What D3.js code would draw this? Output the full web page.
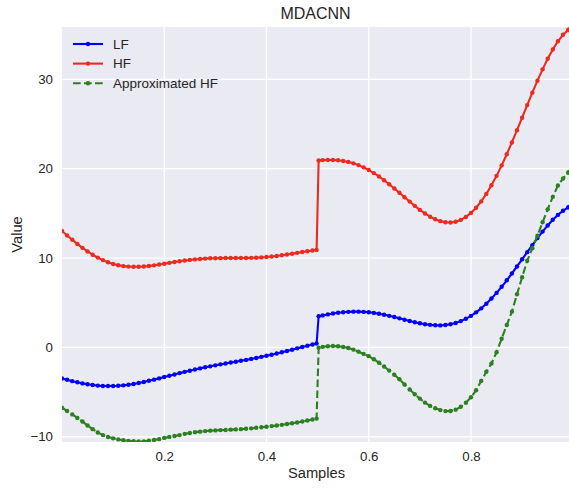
<!DOCTYPE html>
<html>
<head>
<meta charset="utf-8">
<script src="https://cdn.jsdelivr.net/npm/d3@7"></script>
<style>
  html, body { margin: 0; padding: 0; background: #ffffff; }
  svg { display: block; font-family: "Liberation Sans", Arial, sans-serif; }
</style>
</head>
<body>
<script>
// Sample locations shared by all three series
const samples = [
  0.00, 0.01, 0.02, 0.03, 0.04, 0.05, 0.06, 0.07, 0.08, 0.09,
  0.10, 0.11, 0.12, 0.13, 0.14, 0.15, 0.16, 0.17, 0.18, 0.19,
  0.20, 0.21, 0.22, 0.23, 0.24, 0.25, 0.26, 0.27, 0.28, 0.29,
  0.30, 0.31, 0.32, 0.33, 0.34, 0.35, 0.36, 0.37, 0.38, 0.39,
  0.40, 0.41, 0.42, 0.43, 0.44, 0.45, 0.46, 0.47, 0.48, 0.49,
  0.498, 0.502,
  0.51, 0.52, 0.53, 0.54, 0.55, 0.56, 0.57, 0.58, 0.59,
  0.60, 0.61, 0.62, 0.63, 0.64, 0.65, 0.66, 0.67, 0.68, 0.69,
  0.70, 0.71, 0.72, 0.73, 0.74, 0.75, 0.76, 0.77, 0.78, 0.79,
  0.80, 0.81, 0.82, 0.83, 0.84, 0.85, 0.86, 0.87, 0.88, 0.89,
  0.90, 0.91, 0.92, 0.93, 0.94, 0.95, 0.96, 0.97, 0.98, 0.99,
  0.992
];

// Low-fidelity response
const lfValues = [
  -3.49, -3.63, -3.78, -3.91, -4.03, -4.13, -4.21, -4.28, -4.32, -4.33,
  -4.33, -4.30, -4.25, -4.18, -4.09, -3.99, -3.87, -3.74, -3.61, -3.47,
  -3.32, -3.17, -3.03, -2.88, -2.74, -2.61, -2.47, -2.35, -2.23, -2.12,
  -2.01, -1.90, -1.80, -1.70, -1.60, -1.50, -1.40, -1.29, -1.18, -1.06,
  -0.94, -0.82, -0.68, -0.55, -0.40, -0.26, -0.11, 0.04, 0.18, 0.32,
  0.43, 3.48,
  3.58, 3.69, 3.79, 3.87, 3.94, 3.98, 4.00, 4.00, 3.97,
  3.93, 3.86, 3.77, 3.66, 3.53, 3.40, 3.25, 3.10, 2.96, 2.82,
  2.70, 2.59, 2.52, 2.47, 2.46, 2.50, 2.59, 2.73, 2.94, 3.20,
  3.53, 3.92, 4.37, 4.89, 5.47, 6.10, 6.78, 7.51, 8.27, 9.06,
  9.86, 10.66, 11.45, 12.23, 12.96, 13.65, 14.28, 14.83, 15.29, 15.66,
  15.72
];

// High-fidelity response
const hfValues = [
  13.03, 12.53, 12.05, 11.58, 11.14, 10.74, 10.37, 10.05, 9.77, 9.53,
  9.34, 9.20, 9.10, 9.04, 9.02, 9.02, 9.06, 9.11, 9.18, 9.27,
  9.36, 9.46, 9.55, 9.64, 9.72, 9.79, 9.85, 9.90, 9.94, 9.97,
  9.98, 9.99, 10.00, 10.00, 10.00, 10.00, 10.01, 10.02, 10.04, 10.07,
  10.11, 10.17, 10.23, 10.31, 10.39, 10.48, 10.58, 10.67, 10.76, 10.84,
  10.90, 20.92,
  20.96, 20.98, 20.98, 20.94, 20.87, 20.76, 20.60, 20.40, 20.15,
  19.85, 19.51, 19.13, 18.71, 18.26, 17.79, 17.30, 16.81, 16.32, 15.84,
  15.39, 14.99, 14.63, 14.34, 14.13, 14.01, 13.98, 14.07, 14.27, 14.60,
  15.05, 15.63, 16.34, 17.18, 18.14, 19.20, 20.37, 21.62, 22.94, 24.31,
  25.71, 27.12, 28.51, 29.85, 31.12, 32.30, 33.35, 34.26, 34.99, 35.52,
  35.60
];

// Network approximation of the high-fidelity response
const approxHfValues = [
  -6.75, -7.12, -7.50, -7.90, -8.30, -8.75, -9.15, -9.52, -9.82, -10.03,
  -10.18, -10.30, -10.39, -10.46, -10.51, -10.54, -10.52, -10.45, -10.37, -10.27,
  -10.13, -10.02, -9.92, -9.82, -9.68, -9.58, -9.49, -9.43, -9.37, -9.32,
  -9.29, -9.26, -9.24, -9.21, -9.18, -9.15, -9.11, -9.06, -9.00, -8.94,
  -8.88, -8.81, -8.74, -8.67, -8.58, -8.49, -8.40, -8.30, -8.19, -8.08,
  -7.97, -0.03,
  0.06, 0.13, 0.15, 0.12, 0.05, -0.07, -0.25, -0.48, -0.73,
  -0.98, -1.32, -1.72, -2.14, -2.60, -3.06, -3.56, -4.15, -4.72, -5.24,
  -5.73, -6.18, -6.55, -6.82, -7.02, -7.13, -7.12, -6.97, -6.65, -6.20,
  -5.58, -4.80, -3.75, -2.73, -1.80, -0.55, 0.97, 2.50, 4.00, 5.95,
  7.85, 9.70, 11.10, 12.50, 14.00, 15.45, 16.85, 18.12, 18.90, 19.55,
  19.64
];

const seriesNames = ["LF", "HF", "Approximated HF"];
const seriesColors = ["#0000ff", "#ec2b1e", "#2c8020"];
const seriesDashes = [null, null, "7.7,3.3"];
const xTicks = [0.2, 0.4, 0.6, 0.8];
const yTicks = [-10, 0, 10, 20, 30];

const W = 569, H = 489;
const plot = { left: 62, right: 569, top: 27, bottom: 442 };
const textColor = "#262626";

const svg = d3.select("body").append("svg")
  .attr("width", W).attr("height", H);

const x = d3.scaleLinear().domain([0, 0.9917]).range([plot.left, plot.right]);
const y = d3.scaleLinear().domain([-10.59, 35.86]).range([plot.bottom, plot.top]);

// Plot background
svg.append("rect")
  .attr("x", plot.left).attr("y", plot.top)
  .attr("width", plot.right - plot.left).attr("height", plot.bottom - plot.top)
  .attr("fill", "#eaeaf2");

svg.append("clipPath").attr("id", "plot-clip")
  .append("rect")
  .attr("x", plot.left).attr("y", plot.top)
  .attr("width", plot.right - plot.left).attr("height", plot.bottom - plot.top);

// Grid lines
const grid = svg.append("g").attr("stroke", "#ffffff").attr("stroke-width", 1.3);
grid.selectAll("line.gx").data(xTicks).join("line").attr("class", "gx")
  .attr("x1", d => x(d)).attr("x2", d => x(d))
  .attr("y1", plot.top).attr("y2", plot.bottom);
grid.selectAll("line.gy").data(yTicks).join("line").attr("class", "gy")
  .attr("y1", d => y(d)).attr("y2", d => y(d))
  .attr("x1", plot.left).attr("x2", plot.right);

// Axes (labels only, no tick marks or spines)
const xAxis = svg.append("g")
  .attr("transform", `translate(0,${plot.bottom})`)
  .call(d3.axisBottom(x).tickValues(xTicks).tickSize(0).tickPadding(10)
    .tickFormat(d3.format(".1f")));
const yAxis = svg.append("g")
  .attr("transform", `translate(${plot.left},0)`)
  .call(d3.axisLeft(y).tickValues(yTicks).tickSize(0).tickPadding(9)
    .tickFormat(d => d < 0 ? "\u2212" + Math.abs(d) : String(d)));
[xAxis, yAxis].forEach(g => {
  g.select(".domain").remove();
  g.selectAll("text")
    .attr("fill", textColor)
    .style("font-family", "'Liberation Sans', Arial, sans-serif")
    .style("font-size", "13.3px");
});

// Series
const table = seriesNames.map((name, k) => ({
  name,
  color: seriesColors[k],
  dash: seriesDashes[k],
  points: samples.map((s, i) => ({
    x: s,
    y: [lfValues, hfValues, approxHfValues][k][i]
  }))
}));

const line = d3.line().x(d => x(d.x)).y(d => y(d.y));
const marks = svg.append("g").attr("clip-path", "url(#plot-clip)");
table.forEach(s => {
  const g = marks.append("g");
  g.append("path")
    .attr("d", line(s.points))
    .attr("fill", "none")
    .attr("stroke", s.color)
    .attr("stroke-width", 2.1)
    .attr("stroke-dasharray", s.dash)
    .attr("stroke-linejoin", "round");
  g.selectAll("circle").data(s.points).join("circle")
    .attr("cx", d => x(d.x)).attr("cy", d => y(d.y))
    .attr("r", 2.2)
    .attr("fill", s.color);
});

// Legend
const legend = svg.append("g");
table.forEach((s, k) => {
  const ly = 44 + k * 19.6;
  legend.append("line")
    .attr("x1", 73).attr("x2", 103).attr("y1", ly).attr("y2", ly)
    .attr("stroke", s.color).attr("stroke-width", 2.1)
    .attr("stroke-dasharray", s.dash);
  legend.append("circle").attr("cx", 88).attr("cy", ly).attr("r", 2.2)
    .attr("fill", s.color);
  legend.append("text")
    .attr("x", 113).attr("y", ly).attr("dy", "0.35em")
    .attr("fill", textColor)
    .style("font-size", "13.5px")
    .text(s.name);
});

// Title and axis labels
svg.append("text")
  .attr("x", (plot.left + plot.right) / 2).attr("y", 19.3)
  .attr("text-anchor", "middle").attr("fill", textColor)
  .style("font-size", "16px")
  .text("MDACNN");

svg.append("text")
  .attr("x", (plot.left + plot.right) / 2 + 1).attr("y", 478)
  .attr("text-anchor", "middle").attr("fill", textColor)
  .style("font-size", "14.7px")
  .text("Samples");

svg.append("text")
  .attr("transform", `translate(21.5,${(plot.top + plot.bottom) / 2}) rotate(-90)`)
  .attr("text-anchor", "middle").attr("fill", textColor)
  .style("font-size", "14.7px")
  .text("Value");
</script>
</body>
</html>
